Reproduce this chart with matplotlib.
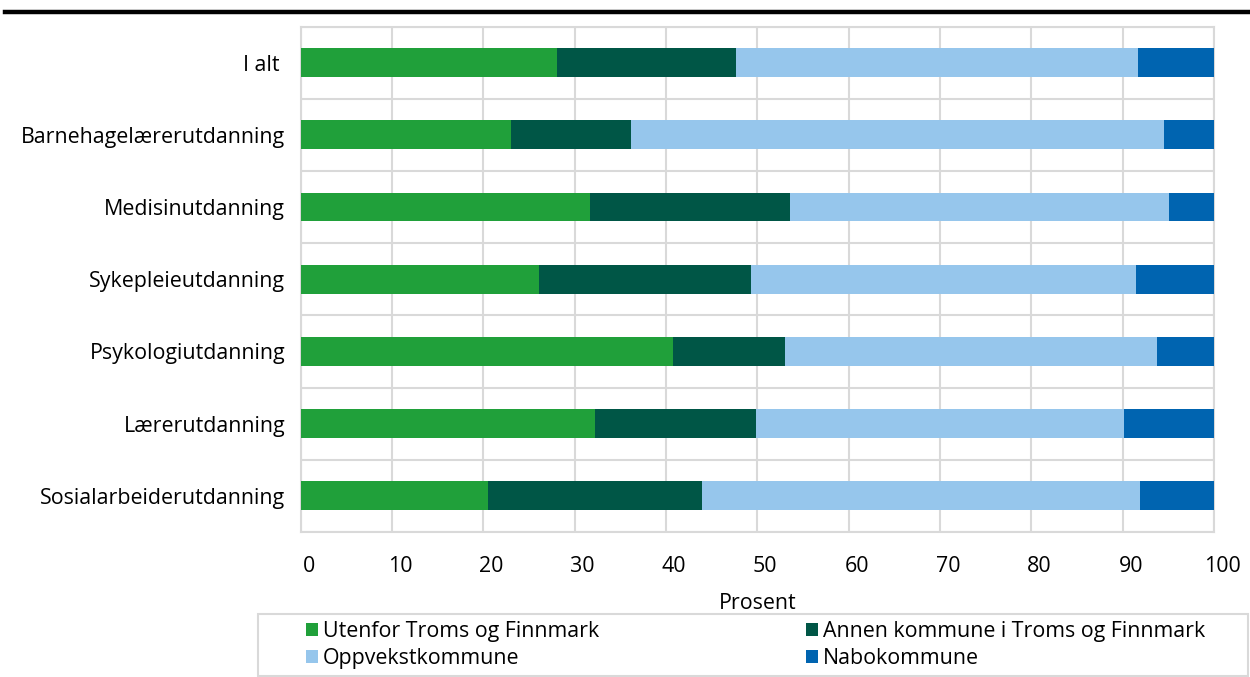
import matplotlib
matplotlib.use("Agg")
import matplotlib.pyplot as plt
import numpy as np
from matplotlib.lines import Line2D
from matplotlib.patches import Patch, Rectangle
from matplotlib.ticker import FixedLocator
import matplotlib.transforms as mtransforms

plt.rcParams['font.family'] = ['Open Sans', 'DejaVu Sans']

categories = ["I alt ", "Barnehagelærerutdanning", "Medisinutdanning", "Sykepleieutdanning",
              "Psykologiutdanning", "Lærerutdanning", "Sosialarbeiderutdanning"]
series_names = ["Utenfor Troms og Finnmark", "Annen kommune i Troms og Finnmark",
                "Oppvekstkommune", "Nabokommune"]
utenfor = [28.1, 23.0, 31.7, 26.1, 40.8, 32.2, 20.5]
annen = [19.6, 13.2, 21.9, 23.2, 12.2, 17.7, 23.5]
oppvekst = [44.0, 58.3, 41.5, 42.2, 40.8, 40.3, 47.9]
nabo = [8.3, 5.5, 4.9, 8.5, 6.2, 9.8, 8.1]
x_ticks = [0, 10, 20, 30, 40, 50, 60, 70, 80, 90, 100]
colors = ["#20A03A", "#005646", "#96C6EC", "#0064B0"]

grid_c = "#D9D9D9"
fs = 15.4

fig = plt.figure(figsize=(12.5, 6.77), dpi=100)
ax = fig.add_axes([300.5/1250, 1-532/677, (1214-300.5)/1250, (532-26.5)/677])

y = np.arange(len(categories))
left = np.zeros(len(categories))
for vals, name, c in zip([utenfor, annen, oppvekst, nabo], series_names, colors):
    ax.barh(y, vals, left=left, height=0.4, color=c, label=name, zorder=3)
    left += np.array(vals)

ax.set_xlim(0, 100)
ax.set_ylim(len(categories)-0.5, -0.5)
ax.set_xticks(x_ticks)
ax.set_yticks(y)
ax.set_yticklabels(categories, fontsize=fs)
ax.yaxis.set_minor_locator(FixedLocator(np.arange(-0.5, len(categories), 1)))
ax.tick_params(axis='both', which='both', length=0)
ax.tick_params(axis='y', pad=11)
ax.tick_params(axis='x', labelsize=fs, pad=17)
for lab in ax.get_xticklabels():
    lab.set_transform(lab.get_transform() + mtransforms.ScaledTranslation(8/100, 0, fig.dpi_scale_trans))
ax.grid(axis='x', which='major', color=grid_c, lw=1.5, zorder=0)
ax.grid(axis='y', which='minor', color=grid_c, lw=1.5, zorder=0)
for s in ax.spines.values():
    s.set_color(grid_c)
    s.set_linewidth(1.5)
ax.set_xlabel("Prosent", fontsize=fs, labelpad=12)

# legend frame
fig.add_artist(Rectangle((258/1250, 1-676/677), (1248-258)/1250, 62/677,
                         transform=fig.transFigure, facecolor='white', edgecolor=grid_c, lw=1.5))
h = [Patch(facecolor=c, edgecolor='none') for c in colors]
order = [0, 2, 1, 3]
leg = fig.legend([h[i] for i in order], [series_names[i] for i in order], ncol=2,
                 loc='center', bbox_to_anchor=(306/1250, 1-676/677, (1205-306)/1250, 62/677),
                 mode='expand', fontsize=fs, frameon=False,
                 handlelength=0.58, handleheight=0.58, handletextpad=0.2,
                 borderpad=0, labelspacing=0.3, borderaxespad=0)

fig.add_artist(Line2D([5/1250, 1], [1-12/677, 1-12/677], transform=fig.transFigure, color='black', lw=3.2))

fig.savefig("out.png", dpi=100)
